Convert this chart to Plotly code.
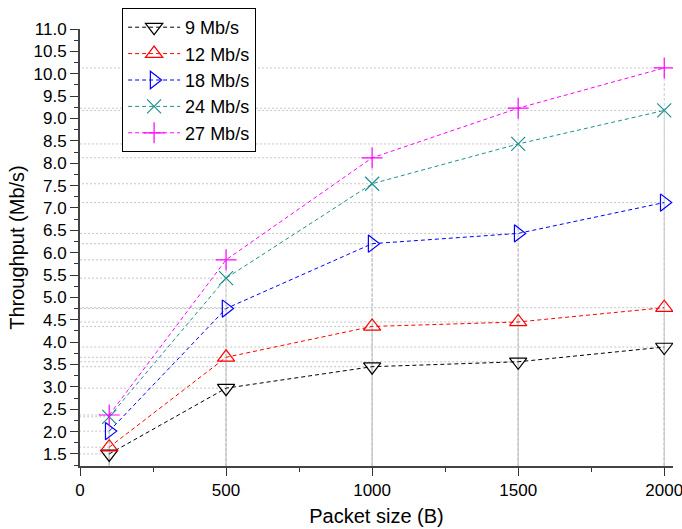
import plotly.graph_objects as go

packet_sizes = [100, 500, 1000, 1500, 2000]
series_names = ["9 Mb/s", "12 Mb/s", "18 Mb/s", "24 Mb/s", "27 Mb/s"]
tp_9 = [1.50, 2.97, 3.45, 3.56, 3.89]
tp_12 = [1.65, 3.66, 4.35, 4.45, 4.77]
tp_18 = [2.01, 4.75, 6.20, 6.43, 7.12]
tp_24 = [2.33, 5.43, 7.54, 8.43, 9.18]
tp_27 = [2.37, 5.84, 8.12, 9.23, 10.13]
y_tick_vals = [1.5 + 0.5 * i for i in range(20)]

all_series = [tp_9, tp_12, tp_18, tp_24, tp_27]
colors = ["#000000", "#ff0000", "#0000ff", "#1f9090", "#ff00ff"]
symbols = ["triangle-down-open", "triangle-up-open", "triangle-right-open", "x-thin-open", "cross-thin-open"]
sizes = [15, 15, 15, 14, 15]

X_MIN, X_MAX = 0, 2030
Y_MIN, Y_MAX = 1.23, 11.0

fig = go.Figure()

# drop lines
for ys in all_series:
    hx, hy, vx, vy = [], [], [], []
    for x, y in zip(packet_sizes, ys):
        hx += [x, X_MIN, None]
        hy += [y, y, None]
        vx += [x, x, None]
        vy += [y, Y_MIN, None]
    fig.add_trace(go.Scatter(x=hx, y=hy, mode="lines", showlegend=False, hoverinfo="skip",
                             line=dict(color="#c4c4c4", width=1, dash="2px,2px")))
    fig.add_trace(go.Scatter(x=vx, y=vy, mode="lines", showlegend=False, hoverinfo="skip",
                             line=dict(color="#c8c8c8", width=1, dash="3px,2px")))

for name, ys, c, s, sz in zip(series_names, all_series, colors, symbols, sizes):
    fig.add_trace(go.Scatter(
        x=packet_sizes, y=ys, name=name, mode="lines+markers",
        line=dict(color=c, width=1, dash="4px,3px"),
        marker=dict(symbol=s, size=sz, color=c, line=dict(color=c, width=1.2)),
    ))

fig.update_layout(
    width=682, height=529,
    margin=dict(l=80, r=9, t=29, b=63, autoexpand=False),
    paper_bgcolor="white", plot_bgcolor="white",
    font=dict(family="Liberation Sans, Arial, sans-serif", size=17, color="#000"),
    showlegend=True,
    legend=dict(x=0.071, y=1 - 8 / 529, xref="paper", yref="container",
                xanchor="left", yanchor="top",
                bordercolor="#000", borderwidth=1, bgcolor="white",
                font=dict(size=18), tracegroupgap=0, itemwidth=52),
    xaxis=dict(
        range=[X_MIN, X_MAX], tickvals=[0, 500, 1000, 1500, 2000],
        ticks="outside", ticklen=8, tickwidth=1.2, tickcolor="#333",
        minor=dict(tickvals=[250, 750, 1250, 1750], ticks="outside", ticklen=4, tickcolor="#333", tickwidth=1.2),
        showline=True, linecolor="#444", linewidth=2, showgrid=False, zeroline=False,
        automargin=False, ticklabeloverflow="allow",
        title=dict(text="Packet size (B)", font=dict(size=20), standoff=10),
        tickfont=dict(size=17),
    ),
    yaxis=dict(
        range=[Y_MIN, Y_MAX], tickvals=y_tick_vals, ticktext=[f"{v:.1f}" for v in y_tick_vals],
        ticks="outside", ticklen=8, tickwidth=1.2, tickcolor="#333",
        minor=dict(tickvals=[1.25 + 0.5 * i for i in range(20)], ticks="outside", ticklen=4, tickcolor="#333", tickwidth=1.2),
        showline=True, linecolor="#444", linewidth=2, showgrid=False, zeroline=False,
        automargin=False,
        title=dict(text="Throughput (Mb/s)", font=dict(size=20), standoff=4),
        tickfont=dict(size=17),
    ),
)

fig.write_html("out.html", config={"displayModeBar": False},
               post_script="document.body.style.margin='0';")
